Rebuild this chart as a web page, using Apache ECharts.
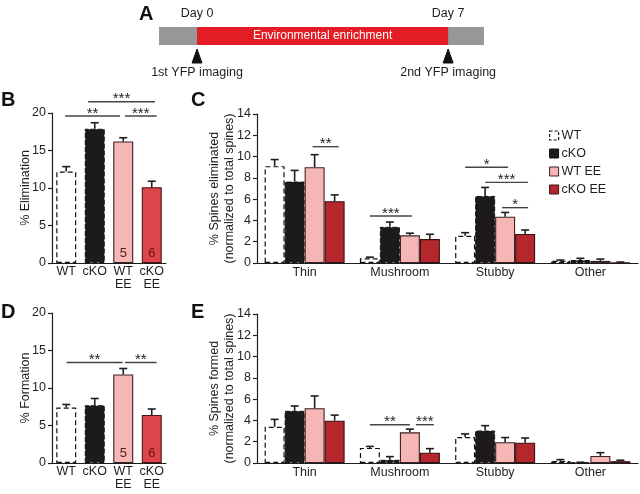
<!DOCTYPE html>
<html><head><meta charset="utf-8">
<script src="https://cdn.jsdelivr.net/npm/echarts@6/dist/echarts.min.js"></script>
<style>html,body{margin:0;padding:0;background:#fff}#c{width:640px;height:494px}</style>
</head><body><div id="c"></div>
<script>
// ---------------- DATA ----------------
// Panel A timeline (days)
const timelineRange = [-1.06, 8.0];
const enrichmentDays = [0, 7];
const enrichmentLabel = 'Environmental enrichment';
const timepointDays = [0, 7];
const timepointLabels = ['Day 0', 'Day 7'];
const imagingLabels = ['1st YFP imaging', '2nd YFP imaging'];

// Groups
const groups = ['WT', 'cKO', 'WT EE', 'cKO EE'];
const groupLabelsBD = ['WT', 'cKO', 'WT\nEE', 'cKO\nEE'];
const spineTypes = ['Thin', 'Mushroom', 'Stubby', 'Other'];
const nLabels = [null, null, 5, 6];

// Panel B: % elimination
const elimMean = [12.2, 17.9, 16.2, 10.1];
const elimSem  = [0.65, 0.8, 0.5, 0.8];
// Panel D: % formation
const formMean = [7.4, 7.7, 11.8, 6.4];
const formSem  = [0.4, 0.9, 0.8, 0.8];

// Panel C: % spines eliminated by type (Thin, Mushroom, Stubby, Other)
const elimWT      = [9.1, 0.45, 2.55, 0.2];
const elimCKO     = [7.65, 3.4, 6.3, 0.28];
const elimWTEE    = [9.0, 2.6, 4.35, 0.2];
const elimCKOEE   = [5.8, 2.25, 2.73, 0.05];
const elimWTSem    = [0.62, 0.1, 0.3, 0.08];
const elimCKOSem   = [1.05, 0.45, 0.8, 0.16];
const elimWTEESem  = [1.18, 0.2, 0.4, 0.17];
const elimCKOEESem = [0.6, 0.45, 0.37, 0.04];

// Panel E: % spines formed by type
const formWT      = [3.4, 1.42, 2.45, 0.18];
const formCKO     = [4.9, 0.3, 3.05, 0.03];
const formWTEE    = [5.15, 2.88, 1.95, 0.66];
const formCKOEE   = [3.98, 0.97, 1.91, 0.17];
const formWTSem    = [0.7, 0.14, 0.28, 0.14];
const formCKOSem   = [0.46, 0.3, 0.46, 0.04];
const formWTEESem  = [1.15, 0.3, 0.44, 0.31];
const formCKOEESem = [0.52, 0.38, 0.44, 0.09];

// Significance: B/D [y, fromCat, toCat] ; C/E [cat, y, fromBar, toBar]
const sigB = [[19.6, -0.04, 1.89], [21.5, 0.77, 3.11], [19.6, 2.06, 3.17]];
const sigBLabels = ['**', '***', '***'];
const sigD = [[13.4, 0.01, 1.98], [13.4, 2.06, 3.17]];
const sigDLabels = ['**', '**'];
const sigC = [[0, 10.93, 1.9, 3.2], [1, 4.42, 0, 2.1], [2, 9.0, 0, 2.15], [2, 7.58, 1, 3.15], [2, 5.2, 1.85, 3.15]];
const sigCLabels = ['**', '***', '*', '***', '*'];
const sigE = [[1, 3.6, 0, 2.0], [1, 3.6, 2.3, 3.2]];
const sigELabels = ['**', '***'];

// ---------------- STYLE ----------------
const FONT = '"Liberation Sans", Arial, Helvetica, sans-serif';
const INK = '#1e1e1e';
const BAR_W = 20;
const colWT = '#ffffff', colCKO = '#1d1a1b', colWTEE = '#f5b6b5', colCKOEE_CE = '#b3272d', colCKOEE_BD = '#dc454a';
const styleWT   = {color: colWT, borderColor: '#111', borderWidth: 1.2, borderType: [5, 3]};
const styleCKO  = {color: colCKO, borderColor: '#111', borderWidth: 1, borderType: [5, 2]};
const styleWTEE = {color: colWTEE, borderColor: '#3a2222', borderWidth: 1.1};
const styleCKOEE_CE = {color: colCKOEE_CE, borderColor: '#3a1010', borderWidth: 1.1};
const styleCKOEE_BD = {color: colCKOEE_BD, borderColor: '#4a1515', borderWidth: 1.1};
const nColors = ['#000', '#000', '#5a2020', '#6a0f0f'];

const chart = echarts.init(document.getElementById('c'), null, {renderer: 'canvas'});

function xCatAxis(gi, data, margin) {
  return {gridIndex: gi, type: 'category', data: data,
    axisLine: {lineStyle: {color: INK, width: 1.2}}, axisTick: {show: false},
    axisLabel: {color: INK, fontSize: 12.5, fontFamily: FONT, margin: margin, lineHeight: 13, interval: 0}};
}
function yValAxis(gi, max, interval, name, gap) {
  return {gridIndex: gi, type: 'value', min: 0, max: max, interval: interval, splitLine: {show: false},
    axisLine: {show: true, lineStyle: {color: INK, width: 1.2}},
    axisTick: {show: true, length: 4, lineStyle: {color: INK, width: 1.2}},
    axisLabel: {color: INK, fontSize: 12.5, fontFamily: FONT, margin: 6},
    name: name, nameLocation: 'middle', nameGap: gap, nameMoveOverlap: false,
    nameTextStyle: {color: INK, fontSize: 12.5, fontFamily: FONT, lineHeight: 15}};
}

function errRender(nSlots) {
  return function (params, api) {
    const cat = api.value(0), m = api.value(1), slot = api.value(2), s = api.value(3);
    const b = api.coord([cat, m]);
    const t = api.coord([cat, m + s]);
    const x = b[0] + (slot - (nSlots - 1) / 2) * BAR_W;
    const st = {stroke: INK, lineWidth: 1.6};
    return {type: 'group', children: [
      {type: 'line', shape: {x1: x, y1: b[1], x2: x, y2: t[1]}, style: st},
      {type: 'line', shape: {x1: x - 4, y1: t[1], x2: x + 4, y2: t[1]}, style: st}
    ]};
  };
}
function sigShapes(x1, x2, y, label) {
  return {type: 'group', children: [
    {type: 'line', shape: {x1: x1, y1: y, x2: x2, y2: y}, style: {stroke: '#444', lineWidth: 1.4}},
    {type: 'text', x: (x1 + x2) / 2, y: y - 2.5, style: {text: label, fill: INK, font: '15px ' + FONT, align: 'center', verticalAlign: 'middle'}}
  ]};
}
function sigRenderCat(labels) {
  return function (params, api) {
    const y = api.value(1), f = api.value(2), t = api.value(3);
    const p0 = api.coord([0, y]);
    const band = api.size([1, 0])[0];
    return sigShapes(p0[0] + f * band, p0[0] + t * band, p0[1], labels[params.dataIndex]);
  };
}
function sigRenderSlot(labels) {
  return function (params, api) {
    const cat = api.value(0), y = api.value(1), f = api.value(2), t = api.value(3);
    const p0 = api.coord([cat, y]);
    return sigShapes(p0[0] + (f - 1.5) * BAR_W, p0[0] + (t - 1.5) * BAR_W, p0[1], labels[params.dataIndex]);
  };
}

const bdStyles = [styleWT, styleCKO, styleWTEE, styleCKOEE_BD];
function bdBars(name, gi, means) {
  return {type: 'bar', name: name, xAxisIndex: gi, yAxisIndex: gi, barWidth: BAR_W,
    data: means.map((v, i) => ({value: v, itemStyle: bdStyles[i], label: {color: nColors[i]}})),
    label: {show: true, position: 'insideBottom', distance: 3, fontSize: 13, fontFamily: FONT,
      formatter: p => nLabels[p.dataIndex] == null ? '' : String(nLabels[p.dataIndex])},
    emphasis: {disabled: true}};
}
function bdErr(gi, means, sems) {
  return {type: 'custom', xAxisIndex: gi, yAxisIndex: gi, clip: false, z: 5, encode: {x: 0, y: 1},
    data: means.map((v, i) => [i, v, 0, sems[i]]), renderItem: errRender(1)};
}
function bdSig(gi, sig, labels) {
  return {type: 'custom', xAxisIndex: gi, yAxisIndex: gi, clip: false, z: 5, encode: {x: 0, y: 1},
    data: sig.map(s => [0, s[0], s[1], s[2]]), renderItem: sigRenderCat(labels)};
}
const ceStyles = [styleWT, styleCKO, styleWTEE, styleCKOEE_CE];
function ceBars(gi, arrs) {
  return arrs.map((arr, s) => ({type: 'bar', name: groups[s], xAxisIndex: gi, yAxisIndex: gi,
    barWidth: BAR_W, barGap: '0%', data: arr, itemStyle: ceStyles[s], emphasis: {disabled: true}}));
}
function ceErr(gi, arrs, sems) {
  const d = [];
  arrs.forEach((arr, s) => arr.forEach((v, c) => d.push([c, v, s, sems[s][c]])));
  return {type: 'custom', xAxisIndex: gi, yAxisIndex: gi, clip: false, z: 5, encode: {x: 0, y: 1},
    data: d, renderItem: errRender(4)};
}
function ceSig(gi, sig, labels) {
  return {type: 'custom', xAxisIndex: gi, yAxisIndex: gi, clip: false, z: 5, encode: {x: 0, y: 1},
    data: sig, renderItem: sigRenderSlot(labels)};
}

const letter = (t, x, y) => ({type: 'text', left: x, top: y, style: {text: t, fill: '#111', font: 'bold 20px ' + FONT}});

const option = {
  animation: false,
  backgroundColor: '#fff',
  grid: [
    {left: 159, top: 27, width: 325, height: 18},
    {left: 52, top: 113, width: 114, height: 150},
    {left: 257, top: 114, width: 381, height: 149},
    {left: 52, top: 313, width: 114, height: 150},
    {left: 257, top: 314, width: 381, height: 149}
  ],
  xAxis: [
    {gridIndex: 0, type: 'value', min: timelineRange[0], max: timelineRange[1], show: false},
    xCatAxis(1, groupLabelsBD, 2),
    xCatAxis(2, spineTypes, 3),
    xCatAxis(3, groupLabelsBD, 2),
    xCatAxis(4, spineTypes, 3)
  ],
  yAxis: [
    {gridIndex: 0, type: 'value', min: 0, max: 1, show: false},
    yValAxis(1, 20, 5, '% Elimination', 19),
    yValAxis(2, 14, 2, '% Spines eliminated\n(normalized to total spines)', 20),
    yValAxis(3, 20, 5, '% Formation', 19),
    yValAxis(4, 14, 2, '% Spines formed\n(normalized to total spines)', 20)
  ],
  legend: {
    left: 544, top: 124, orient: 'vertical', itemWidth: 9, itemHeight: 9, itemGap: 5,
    textStyle: {color: INK, fontSize: 12.5, fontFamily: FONT, padding: [0, 0, 0, -2]},
    selectedMode: false,
    data: [
      {name: 'WT', icon: 'rect', itemStyle: {color: '#fff', borderColor: '#111', borderWidth: 1.2, borderType: [3, 2]}},
      {name: 'cKO', icon: 'rect', itemStyle: {color: colCKO, borderColor: '#111', borderWidth: 1}},
      {name: 'WT EE', icon: 'rect', itemStyle: {color: colWTEE, borderColor: '#3a2222', borderWidth: 1}},
      {name: 'cKO EE', icon: 'rect', itemStyle: {color: colCKOEE_CE, borderColor: '#3a1010', borderWidth: 1}}
    ]
  },
  graphic: [letter('A', 139, 4), letter('B', 1, 90), letter('C', 191, 90), letter('D', 1, 302), letter('E', 191, 302)],
  series: [
    // Panel A
    {type: 'custom', xAxisIndex: 0, yAxisIndex: 0, clip: false, silent: true,
      data: [[enrichmentDays[0], enrichmentDays[1]]], encode: {x: [0, 1]},
      renderItem: function (params, api) {
        const cs = params.coordSys;
        const p0 = api.coord([api.value(0), 1]);
        const p1 = api.coord([api.value(1), 0]);
        return {type: 'group', children: [
          {type: 'rect', shape: {x: cs.x, y: cs.y, width: cs.width, height: cs.height}, style: {fill: '#97979a'}},
          {type: 'rect', shape: {x: p0[0], y: p0[1], width: p1[0] - p0[0], height: p1[1] - p0[1]}, style: {fill: '#e31d25'}},
          {type: 'text', x: (p0[0] + p1[0]) / 2, y: (p0[1] + p1[1]) / 2, style: {text: enrichmentLabel, fill: '#fff', font: '12px ' + FONT, align: 'center', verticalAlign: 'middle'}}
        ]};
      }},
    {type: 'custom', xAxisIndex: 0, yAxisIndex: 0, clip: false, silent: true,
      data: timepointDays.map((d, i) => [d, i]), encode: {x: 0},
      renderItem: function (params, api) {
        const i = params.dataIndex;
        const top = api.coord([api.value(0), 1]);
        const bot = api.coord([api.value(0), 0]);
        const x = top[0];
        return {type: 'group', children: [
          {type: 'text', x: x, y: top[1] - 13, style: {text: timepointLabels[i], fill: INK, font: '12.5px ' + FONT, align: 'center', verticalAlign: 'middle'}},
          {type: 'polygon', shape: {points: [[x, bot[1] + 4], [x - 5, bot[1] + 18], [x + 5, bot[1] + 18]]}, style: {fill: '#111', stroke: '#111', lineWidth: 1, lineJoin: 'round'}},
          {type: 'text', x: x, y: bot[1] + 28, style: {text: imagingLabels[i], fill: INK, font: '12.5px ' + FONT, align: 'center', verticalAlign: 'middle'}}
        ]};
      }},
    // Panel B
    bdBars('elimBD', 1, elimMean),
    bdErr(1, elimMean, elimSem),
    bdSig(1, sigB, sigBLabels),
    // Panel C
    ...ceBars(2, [elimWT, elimCKO, elimWTEE, elimCKOEE]),
    ceErr(2, [elimWT, elimCKO, elimWTEE, elimCKOEE], [elimWTSem, elimCKOSem, elimWTEESem, elimCKOEESem]),
    ceSig(2, sigC, sigCLabels),
    // Panel D
    bdBars('formBD', 3, formMean),
    bdErr(3, formMean, formSem),
    bdSig(3, sigD, sigDLabels),
    // Panel E
    ...ceBars(4, [formWT, formCKO, formWTEE, formCKOEE]),
    ceErr(4, [formWT, formCKO, formWTEE, formCKOEE], [formWTSem, formCKOSem, formWTEESem, formCKOEESem]),
    ceSig(4, sigE, sigELabels)
  ]
};
chart.setOption(option);
</script>
</body></html>
